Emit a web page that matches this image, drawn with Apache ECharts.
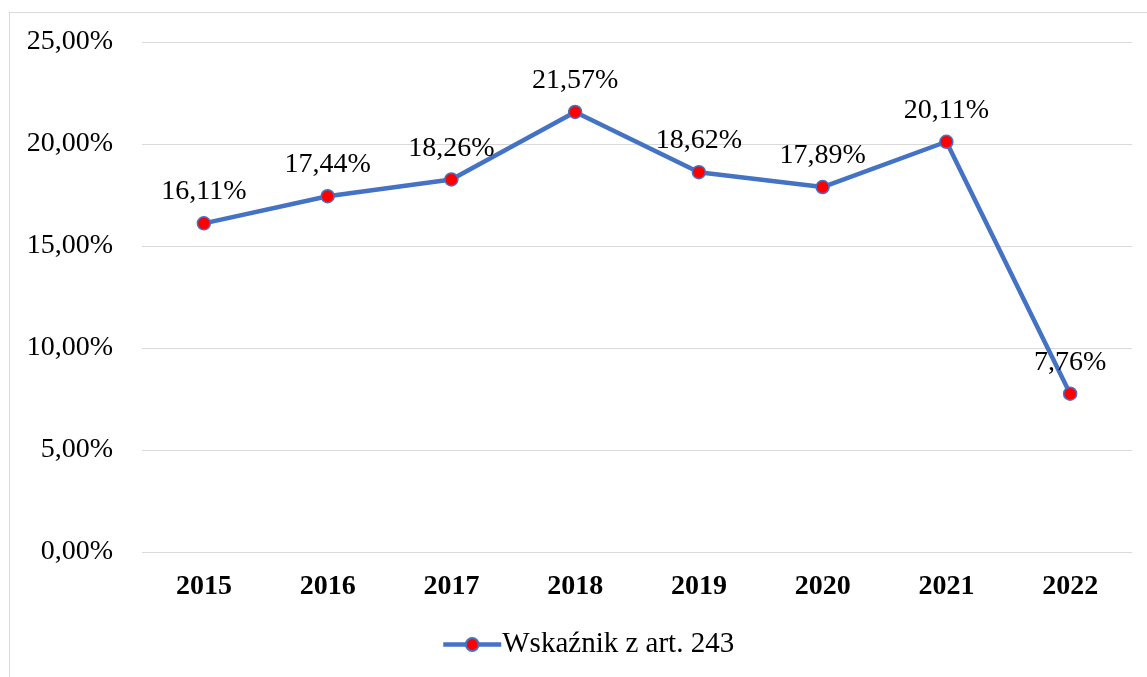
<!DOCTYPE html>
<html>
<head>
<meta charset="utf-8">
<script src="https://cdn.jsdelivr.net/npm/echarts@6/dist/echarts.min.js"></script>
<style>
  html, body { margin: 0; padding: 0; background: #fff; }
  #frame { position: absolute; left: 9px; top: 12px; width: 1160px; height: 700px; border: 1px solid #d9d9d9; }
  #chart { position: absolute; left: 0; top: 0; width: 1147px; height: 677px; }
</style>
</head>
<body>
<div id="frame"></div>
<div id="chart"></div>
<script>
// lata i wartosci wskaznika
var years = ['2015', '2016', '2017', '2018', '2019', '2020', '2021', '2022'];
var values = [16.11, 17.44, 18.26, 21.57, 18.62, 17.89, 20.11, 7.76];
var seriesName = 'Wskaźnik z art. 243';

var FONT = 'Liberation Serif';

function pl(v, d) {
    return v.toFixed(d).replace('.', ',') + '%';
}

var myChart = echarts.init(document.getElementById('chart'), null, {renderer: 'canvas'});
var option = {
    textStyle: { fontFamily: FONT },
    grid: { left: 142, right: 15, top: 42, bottom: 125 },
    legend: {
        data: [seriesName],
        bottom: 13,
        left: 436,
        itemWidth: 58,
        itemHeight: 16,
        itemGap: 4,
        lineStyle: { width: 4.5 },
        textStyle: { fontFamily: FONT, fontSize: 29, color: '#000', padding: [0, 0, 0, -4] }
    },
    xAxis: {
        type: 'category',
        data: years,
        axisLine: { show: false },
        axisTick: { show: false },
        axisLabel: { fontFamily: FONT, fontSize: 28, fontWeight: 'bold', color: '#000', margin: 21 }
    },
    yAxis: {
        type: 'value',
        min: 0,
        max: 25,
        interval: 5,
        axisLabel: {
            fontFamily: FONT, fontSize: 28, color: '#000', margin: 29,
            padding: [5, 0, 0, 0],
            formatter: function (v) { return pl(v, 2); }
        },
        splitLine: { lineStyle: { color: '#d9d9d9', width: 1 } }
    },
    series: [{
        name: seriesName,
        type: 'line',
        data: values,
        symbol: 'circle',
        symbolSize: 13,
        lineStyle: { color: '#4472C4', width: 4.5 },
        itemStyle: { color: '#ff0000', borderColor: '#4472C4', borderWidth: 1.5 },
        label: {
            show: true,
            position: 'top',
            distance: 10,
            fontFamily: FONT,
            fontSize: 28,
            color: '#000',
            formatter: function (p) { return pl(p.value, 2); }
        }
    }]
};
myChart.setOption(option);
</script>
</body>
</html>
